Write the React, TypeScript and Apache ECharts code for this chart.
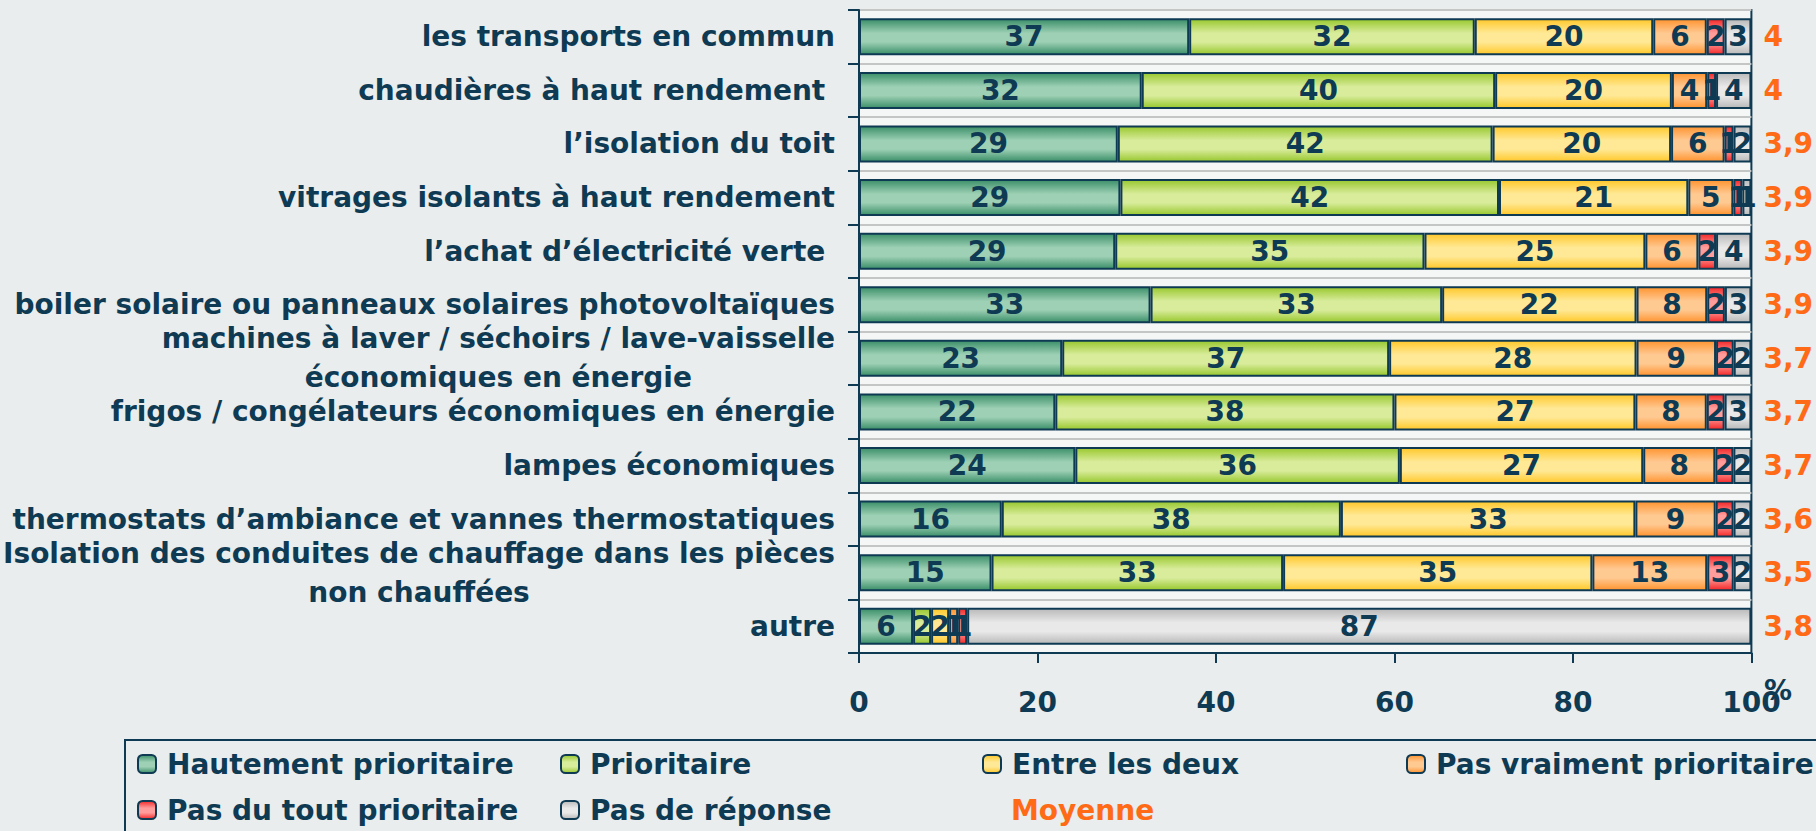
import { useEffect, useRef } from "react";
import * as echarts from "echarts";

const categories = [
  "les transports en commun",
  "chaudières à haut rendement\u00a0",
  "l’isolation du toit",
  "vitrages isolants à haut rendement",
  "l’achat d’électricité verte\u00a0",
  "boiler solaire ou panneaux solaires photovoltaïques",
  "machines à laver / séchoirs / lave-vaisselle\néconomiques en énergie",
  "frigos / congélateurs économiques en énergie",
  "lampes économiques",
  "thermostats d’ambiance et vannes thermostatiques",
  "Isolation des conduites de chauffage dans les pièces\nnon chauffées",
  "autre",
];

const hautement = [37, 32, 29, 29, 29, 33, 23, 22, 24, 16, 15, 6];
const prioritaire = [32, 40, 42, 42, 35, 33, 37, 38, 36, 38, 33, 2];
const entreLesDeux = [20, 20, 20, 21, 25, 22, 28, 27, 27, 33, 35, 2];
const pasVraiment = [6, 4, 6, 5, 6, 8, 9, 8, 8, 9, 13, 1];
const pasDuTout = [2, 1, 1, 1, 2, 2, 2, 2, 2, 2, 3, 1];
const pasDeReponse = [3, 4, 2, 1, 4, 3, 2, 3, 2, 2, 2, 87];
const moyenne = [4, 4, 3.9, 3.9, 3.9, 3.9, 3.7, 3.7, 3.7, 3.6, 3.5, 3.8];

const seriesNames = [
  "Hautement prioritaire",
  "Prioritaire",
  "Entre les deux",
  "Pas vraiment prioritaire",
  "Pas du tout prioritaire",
  "Pas de réponse",
];
const moyenneName = "Moyenne";
const xTicks = { min: 0, max: 100, interval: 20 };

const FONT = "DejaVu Sans";
const NAVY = "#0f3a53";
const ORANGE = "#ff6a16";
const BG = "#e9eded";

export default function App() {
  const ref = useRef<HTMLDivElement>(null);

  useEffect(() => {
    document.body.style.margin = "0";
    document.body.style.background = BG;
    const chart = echarts.init(ref.current!, null, { renderer: "svg" });

    const raw = [hautement, prioritaire, entreLesDeux, pasVraiment, pasDuTout, pasDeReponse];
    const totals = categories.map((_, i) => raw.reduce((s, arr) => s + arr[i], 0));

    const palettes = [
      ["#3b8f69", "#9dd0b4"],
      ["#98c82e", "#d9ec9c"],
      ["#ffc82a", "#ffe996"],
      ["#ff9430", "#ffc992"],
      ["#f42828", "#ff9d9d"],
      ["#b9b9b9", "#e9e9e9"],
    ];
    const grad = (dark: string, light: string) =>
      new echarts.graphic.LinearGradient(0, 0, 0, 1, [
        { offset: 0, color: dark },
        { offset: 0.4, color: light },
        { offset: 0.65, color: light },
        { offset: 1, color: dark },
      ]);

    const barSeries = raw.map((arr, k) => ({
      name: seriesNames[k],
      type: "bar",
      stack: "total",
      barWidth: 37,
      data: arr.map((v, i) => (v / totals[i]) * 100),
      itemStyle: {
        color: grad(palettes[k][0], palettes[k][1]),
        borderColor: NAVY,
        borderWidth: 2,
      },
      label: {
        show: true,
        position: "inside",
        formatter: (p: any) => String(arr[p.dataIndex]),
        color: NAVY,
        fontSize: 28,
        fontWeight: "bold",
        fontFamily: FONT,
      },
      emphasis: { disabled: true },
    }));

    const legendPos: [number, number, number][] = [
      [0, 137, 750],
      [1, 560, 750],
      [2, 982, 750],
      [3, 1406, 750],
      [4, 137, 796],
      [5, 560, 796],
    ];
    const legendText = {
      fontSize: 28,
      fontWeight: "bold",
      color: NAVY,
      fontFamily: FONT,
      padding: [0, 0, 0, 6],
    };
    const legends: any[] = legendPos.map(([k, left, top]) => ({
      data: [seriesNames[k]],
      left,
      top,
      padding: 0,
      itemWidth: 18,
      itemHeight: 18,
      selectedMode: false,
      textStyle: legendText,
    }));
    legends.push({
      data: [{ name: moyenneName, icon: "none" }],
      left: 982,
      top: 796,
      padding: 0,
      itemWidth: 18,
      itemHeight: 18,
      selectedMode: false,
      textStyle: { ...legendText, color: ORANGE },
    });

    const option: any = {
      animation: false,
      backgroundColor: BG,
      textStyle: { fontFamily: FONT },
      grid: {
        left: 859,
        right: 63,
        top: 10,
        bottom: 178,
        show: true,
        backgroundColor: "#f5f7f7",
        borderColor: NAVY,
        borderWidth: 2,
      },
      legend: legends,
      xAxis: {
        type: "value",
        min: xTicks.min,
        max: xTicks.max,
        interval: xTicks.interval,
        axisLine: { show: true, lineStyle: { color: NAVY, width: 2 } },
        axisTick: { show: true, length: 10, lineStyle: { color: NAVY, width: 2 } },
        splitLine: { show: false },
        axisLabel: {
          fontSize: 28,
          fontWeight: "bold",
          color: NAVY,
          fontFamily: FONT,
          margin: 35,
        },
      },
      yAxis: [
        {
          type: "category",
          inverse: true,
          data: categories,
          axisLine: { show: true, lineStyle: { color: NAVY, width: 2 } },
          axisTick: { show: true, length: 11, lineStyle: { color: NAVY, width: 2 } },
          splitLine: { show: true, lineStyle: { color: "#c4c6c6", width: 2 } },
          axisLabel: {
            interval: 0,
            margin: 24,
            formatter: (v: string) =>
              v
                .split("\n")
                .map((l) => `{c|${l}}`)
                .join("\n"),
            rich: {
              c: {
                align: "center",
                fontSize: 28,
                fontWeight: "bold",
                color: NAVY,
                fontFamily: FONT,
                lineHeight: 39,
              },
            },
          },
        },
        {
          type: "category",
          inverse: true,
          position: "right",
          data: moyenne.map((m) => String(m).replace(".", ",")),
          axisLine: { show: false },
          axisTick: { show: false },
          splitLine: { show: false },
          axisLabel: {
            interval: 0,
            margin: 12,
            color: ORANGE,
            fontSize: 28,
            fontWeight: "bold",
            fontFamily: FONT,
          },
        },
      ],
      series: [
        ...barSeries,
        { name: moyenneName, type: "scatter", data: [], symbolSize: 0 },
      ],
      graphic: [
        {
          type: "rect",
          shape: { x: 125, y: 740, width: 1720, height: 120 },
          style: { fill: "none", stroke: NAVY, lineWidth: 2 },
          silent: true,
        },
        {
          type: "text",
          x: 1778,
          y: 690,
          style: {
            text: "%",
            fontSize: 28,
            fontWeight: "bold",
            fill: NAVY,
            fontFamily: FONT,
            align: "center",
            verticalAlign: "middle",
          },
        },
      ],
    };

    chart.setOption(option);
    return () => chart.dispose();
  }, []);

  return (
    <div
      ref={ref}
      style={{ width: 1816, height: 831, background: BG, position: "absolute", left: 0, top: 0 }}
    />
  );
}
